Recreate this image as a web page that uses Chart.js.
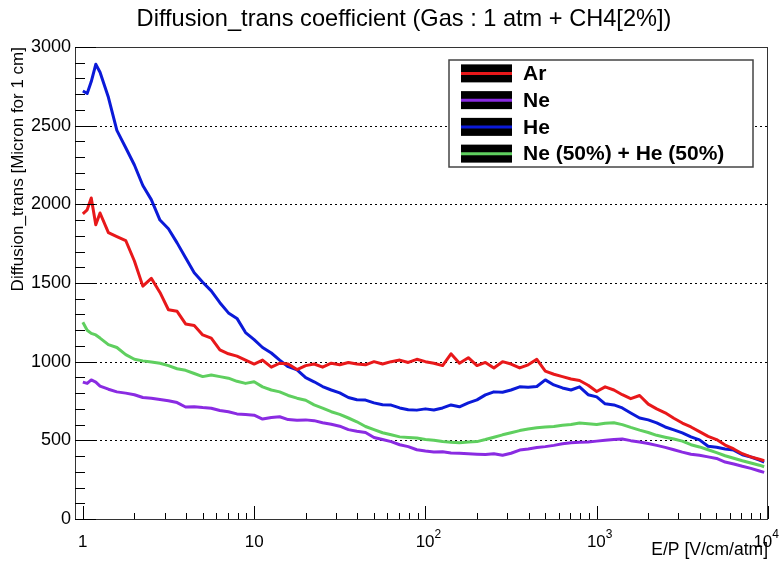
<!DOCTYPE html>
<html>
<head>
<meta charset="utf-8">
<script src="https://cdn.jsdelivr.net/npm/chart.js@4.4.1/dist/chart.umd.min.js"></script>
<style>
  html, body { margin: 0; padding: 0; background: #fff; }
  #wrap { width: 780px; height: 563px; }
</style>
</head>
<body>
<div id="wrap"><canvas id="myChart" width="780" height="563"></canvas></div>
<script>
var FONT = "'Liberation Sans', Arial, Helvetica, sans-serif";
var TITLE = "Diffusion_trans coefficient (Gas : 1 atm + CH4[2%])";

var xValues = [
  1, 1.06, 1.12, 1.19, 1.26, 1.41, 1.58, 1.78, 2, 2.24, 2.51, 2.82, 3.16, 3.55, 3.98, 4.47, 5.01, 5.62, 6.31, 7.08, 7.94, 8.91,
  10, 11.2, 12.6, 14.1, 15.8, 17.8, 20, 22.4, 25.1, 28.2, 31.6, 35.5, 39.8, 44.7, 50.1, 56.2, 63.1, 70.8, 79.4, 89.1,
  100, 112, 126, 141, 158, 178, 200, 224, 251, 282, 316, 355, 398, 447, 501, 562, 631, 708, 794, 891,
  1000, 1120, 1260, 1410, 1580, 1780, 2000, 2240, 2510, 2820, 3160, 3550, 3980, 4470, 5010, 5620, 6310, 7080, 7940, 8910, 9500
];

var arValues = [
  1940, 1965, 2040, 1870, 1945, 1820, 1795, 1770, 1640, 1480, 1530, 1440, 1330, 1320, 1240, 1230, 1170, 1150, 1075, 1050, 1035, 1010,
  985, 1010, 965, 990, 985, 950, 975, 985, 965, 990, 980, 995, 985, 980, 1000, 985, 1000, 1010, 995, 1015,
  1000, 990, 975, 1050, 990, 1025, 975, 995, 960, 1000, 985, 960, 980, 1015, 940, 920, 905, 890, 880, 850,
  810, 840, 820, 790, 765, 785, 730, 700, 675, 640, 610, 585, 555, 525, 505, 470, 445, 415, 395, 380, 370
];

var neValues = [
  870, 862, 884, 870, 845, 825, 808, 800, 790, 772, 768, 760, 752, 740, 712, 714, 708, 704, 690, 682, 668, 664,
  660, 635, 645, 650, 632, 628, 630, 625, 612, 602, 590, 568, 558, 550, 518, 505, 492, 472, 460, 440,
  432, 426, 428, 420, 418, 415, 412, 410, 415, 405, 418, 438, 445, 455, 460, 468, 478, 485, 488, 490,
  495, 500, 505, 508, 498, 490, 480, 468, 455, 440, 425, 412, 405, 395, 385, 362, 350, 335, 322, 305, 296
];

var heValues = [
  2720, 2705, 2780, 2890, 2840, 2680, 2470, 2360, 2250, 2120, 2030, 1900, 1845, 1755, 1660, 1565, 1505, 1450, 1375, 1310, 1275, 1185,
  1140, 1090, 1055, 1010, 968, 948, 898, 872, 842, 820, 802, 772, 758, 756, 738, 726, 724, 706, 694, 692,
  700, 693, 706, 725, 713, 738, 757, 789, 808, 806, 820, 840, 838, 842, 884, 852, 833, 820, 840, 790,
  776, 732, 725, 706, 674, 642, 630, 611, 585, 566, 547, 522, 503, 462, 456, 445, 438, 408, 394, 375, 362
];

var neHeValues = [
  1250, 1200, 1180, 1170, 1150, 1108, 1090, 1045, 1015, 1005, 998, 990, 975, 955, 945, 925, 905, 915, 905, 895, 875, 862,
  872, 840, 820, 808, 785, 768, 755, 725, 705, 682, 665, 642, 618, 588, 568, 548, 535, 522, 518, 515,
  505, 500, 492, 488, 484, 490, 492, 505, 520, 535, 548, 562, 572, 580, 585, 588, 596, 600, 610, 605,
  600, 608, 612, 600, 582, 565, 550, 532, 520, 508, 495, 472, 458, 440, 422, 402, 386, 370, 356, 342, 332
];

var seriesLabels = ["Ar", "Ne", "He", "Ne (50%) + He (50%)"];
var seriesColors = ["#e8181a", "#8a2be2", "#0b1ad8", "#5fcf5f"];
var yTicks = [0, 500, 1000, 1500, 2000, 2500, 3000];
var xDecades = [1, 10, 100, 1000, 10000];

function points(ys) {
  return xValues.map(function (x, i) { return { x: x, y: ys[i] }; });
}

// ROOT-like frame, inside ticks, dotted grid, x labels, title and legend box
var rootStyle = {
  id: "rootStyle",
  beforeDatasetsDraw: function (chart) {
    var ctx = chart.ctx, a = chart.chartArea, y = chart.scales.y;
    ctx.save();
    ctx.strokeStyle = "#000";
    ctx.lineWidth = 1;
    ctx.setLineDash([2, 3]);
    yTicks.forEach(function (v) {
      if (v === 0 || v === 3000) return;
      var py = Math.round(y.getPixelForValue(v)) + 0.5;
      ctx.beginPath();
      ctx.moveTo(a.left, py);
      ctx.lineTo(a.right, py);
      ctx.stroke();
    });
    ctx.restore();
  },
  afterDatasetsDraw: function (chart) {
    var ctx = chart.ctx, a = chart.chartArea, x = chart.scales.x, y = chart.scales.y;
    ctx.save();

    // title
    ctx.fillStyle = "#000";
    ctx.font = "23.6px " + FONT;
    ctx.textAlign = "center";
    ctx.textBaseline = "middle";
    ctx.fillText(TITLE, 404, 19);

    ctx.strokeStyle = "#333";
    ctx.lineWidth = 1;
    ctx.strokeRect(Math.round(a.left) + 0.5, Math.round(a.top) + 0.5, Math.round(a.width) - 1, Math.round(a.height));

    // y ticks
    ctx.strokeStyle = "#000";
    for (var v = 0; v <= 3000; v += 100) {
      var py = Math.round(y.getPixelForValue(v)) + 0.5;
      var len = v % 500 === 0 ? 21 : 10;
      ctx.beginPath();
      ctx.moveTo(a.left, py);
      ctx.lineTo(a.left + len, py);
      ctx.stroke();
    }
    // x ticks
    for (var d = 0; d < 4; d++) {
      for (var k = 1; k <= 10; k++) {
        var xv = k * xDecades[d];
        var px = Math.round(x.getPixelForValue(xv)) + 0.5;
        var l = (k === 1 || k === 10) ? 13 : 6;
        ctx.beginPath();
        ctx.moveTo(px, a.bottom);
        ctx.lineTo(px, a.bottom - l);
        ctx.stroke();
      }
    }

    // x labels
    ctx.fillStyle = "#000";
    ctx.textBaseline = "middle";
    var ly = a.bottom + 23;
    xDecades.forEach(function (xv, i) {
      var px = x.getPixelForValue(xv);
      if (i < 2) {
        ctx.font = "17px " + FONT;
        ctx.textAlign = "center";
        ctx.fillText(String(xv), px, ly);
      } else {
        ctx.font = "17px " + FONT;
        var wb = ctx.measureText("10").width;
        ctx.font = "12px " + FONT;
        var we = ctx.measureText(String(i)).width;
        var sx = Math.min(px - (wb + we) / 2 + 3, 779 - wb - we);
        ctx.textAlign = "left";
        ctx.font = "17px " + FONT;
        ctx.fillText("10", sx, ly);
        ctx.font = "12px " + FONT;
        ctx.fillText(String(i), sx + wb, ly - 7);
      }
    });

    // legend
    var bx = 449, by = 60, bw = 304, bh = 107;
    ctx.fillStyle = "#fff";
    ctx.fillRect(bx, by, bw, bh);
    ctx.strokeStyle = "#444";
    ctx.lineWidth = 1.5;
    ctx.strokeRect(bx, by, bw, bh);
    var rowH = bh / chart.data.datasets.length;
    chart.data.datasets.forEach(function (ds, i) {
      var cy = by + rowH * (i + 0.5);
      ctx.fillStyle = "#000";
      ctx.fillRect(bx + 12, cy - 9, 51, 18);
      ctx.strokeStyle = ds.borderColor;
      ctx.lineWidth = 3;
      ctx.beginPath();
      ctx.moveTo(bx + 12, cy);
      ctx.lineTo(bx + 63, cy);
      ctx.stroke();
      ctx.fillStyle = "#000";
      ctx.font = "bold 21px " + FONT;
      ctx.textAlign = "left";
      ctx.textBaseline = "middle";
      ctx.fillText(ds.label, bx + 74, cy + 1);
    });
    ctx.restore();
  }
};

new Chart("myChart", {
  type: "line",
  data: {
    datasets: [
      { label: seriesLabels[0], data: points(arValues), borderColor: seriesColors[0] },
      { label: seriesLabels[1], data: points(neValues), borderColor: seriesColors[1] },
      { label: seriesLabels[2], data: points(heValues), borderColor: seriesColors[2] },
      { label: seriesLabels[3], data: points(neHeValues), borderColor: seriesColors[3] }
    ]
  },
  options: {
    responsive: false,
    animation: false,
    layout: { padding: { left: 0, right: 12, top: 47, bottom: 0 } },
    elements: {
      line: { borderWidth: 3, tension: 0, fill: false, borderJoinStyle: "round" },
      point: { radius: 0 }
    },
    plugins: {
      legend: { display: false },
      tooltip: { enabled: false },
      title: { display: false }
    },
    scales: {
      x: {
        type: "logarithmic",
        min: 0.9,
        max: 10000,
        grid: { display: false, drawTicks: false },
        border: { display: false },
        ticks: { display: false },
        title: {
          display: true,
          text: "E/P [V/cm/atm]",
          align: "end",
          color: "#000",
          font: { family: FONT, size: 17.5 },
          padding: { top: 0, bottom: 2 }
        },
        afterFit: function (s) { s.height = 44; }
      },
      y: {
        min: 0,
        max: 3000,
        grid: { display: false, drawTicks: false },
        border: { display: false },
        afterBuildTicks: function (s) { s.ticks = yTicks.map(function (v) { return { value: v }; }); },
        ticks: {
          color: "#000",
          font: { family: FONT, size: 18 },
          padding: 4,
          callback: function (v) { return String(v); }
        },
        title: {
          display: true,
          text: "Diffusion_trans [Micron for 1 cm]",
          align: "end",
          color: "#000",
          font: { family: FONT, size: 17 },
          padding: { top: 8, bottom: 0 }
        },
        afterFit: function (s) { s.width = 75; }
      }
    }
  },
  plugins: [rootStyle]
});
</script>
</body>
</html>
